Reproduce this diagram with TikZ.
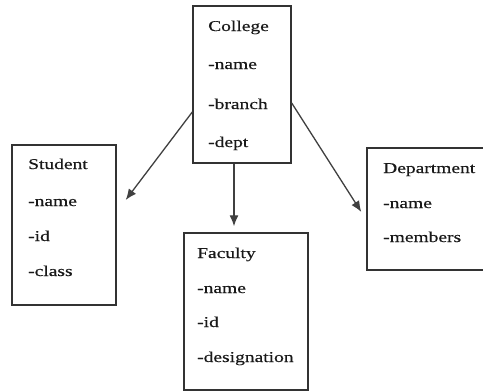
\documentclass[tikz,border=0pt]{standalone}
\usepackage{fontspec}
\newfontfamily\boxfont[FakeStretch=1.3,FakeBold=0.3]{Liberation Serif}
\usetikzlibrary{arrows.meta,calc}
\begin{document}
\begin{tikzpicture}[x=1pt,y=-1pt,
  box/.style={draw=black!80,line width=1.4pt,fill=none},
  lbl/.style={anchor=base west,inner sep=0pt,font=\boxfont\fontsize{15}{17}\selectfont,text=black!90},
  conn/.style={draw=black!75,line width=1.3pt,-{Latex[length=11pt,width=9pt]}}]
\useasboundingbox (0,0) rectangle (483,391);
\fill[white] (0,0) rectangle (483,391);
% boxes
\node[box,minimum width=98pt,minimum height=157pt,inner sep=0pt] (college) at (242,84.5) {};
\node[box,minimum width=104pt,minimum height=160pt,inner sep=0pt] (student) at (64,225) {};
\node[box,minimum width=124pt,minimum height=157pt,inner sep=0pt] (faculty) at (246,311.5) {};
\node[box,minimum width=120pt,minimum height=122pt,inner sep=0pt] (department) at (427,209) {};
% texts
\node[lbl] (c1) at (208,31) {College};
\node[lbl] (c2) at (208,69) {-name};
\node[lbl] (c3) at (208,109) {-branch};
\node[lbl] (c4) at (208,147) {-dept};
\node[lbl] (s1) at (28,169) {Student};
\node[lbl] (s2) at (28,206) {-name};
\node[lbl] (s3) at (28,241) {-id};
\node[lbl] (s4) at (28,276) {-class};
\node[lbl] (f1) at (197,258) {Faculty};
\node[lbl] (f2) at (197,293) {-name};
\node[lbl] (f3) at (197,327) {-id};
\node[lbl] (f4) at (197,362) {-designation};
\node[lbl] (d1) at (383,173) {Department};
\node[lbl] (d2) at (383,208) {-name};
\node[lbl] (d3) at (383,242) {-members};
% connectors
\draw[conn] ([yshift=-27.5pt]college.west) -- ([xshift=9pt,yshift=25pt]student.east);
\draw[conn] ([xshift=-8pt]college.south) -- ([xshift=-12pt,yshift=6pt]faculty.north);
\draw[conn] ([yshift=-18.5pt]college.east) -- ([xshift=-5pt,yshift=-3pt]department.west);
\end{tikzpicture}
\end{document}
